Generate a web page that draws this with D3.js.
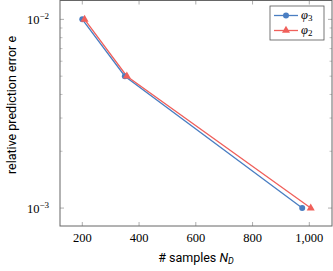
<!DOCTYPE html>
<html>
<head>
<meta charset="utf-8">
<script src="https://d3js.org/d3.v7.min.js"></script>
<style>
  body { margin: 0; background: #fff; }
</style>
</head>
<body>
<script>
// data
var phi3X = [200, 350, 975],
    phi3Y = [0.01, 0.005, 0.001];
var phi2X = [208, 357, 1005],
    phi2Y = [0.01, 0.005, 0.001];
var xTicks = [200, 400, 600, 800, 1000];
var yTicks = [0.001, 0.01];
var seriesNames = ["3", "2"];

var W = 333, H = 271;
var pLeft = 60, pRight = 332, pTop = 0.5, pBottom = 226;

var svg = d3.select("body").append("svg")
    .attr("width", W).attr("height", H);

var x = d3.scaleLinear().domain([121.4, 1080]).range([pLeft, pRight]);
var y = d3.scaleLog().domain([Math.pow(10, -3.095), Math.pow(10, -1.9)]).range([pBottom, pTop]);

var minorY = [];
for (var k = 2; k <= 9; k++) minorY.push(k * 0.001);

var tickCol = "#999";
var serif = "'Liberation Serif', 'DejaVu Serif', serif";

// y ticks (left + right, inside)
[pLeft, pRight].forEach(function(px, i) {
  var dir = i === 0 ? 1 : -1;
  svg.selectAll(null).data(yTicks).enter().append("line")
    .attr("x1", px).attr("x2", px + dir * 4)
    .attr("y1", function(d) { return y(d); }).attr("y2", function(d) { return y(d); })
    .attr("stroke", tickCol).attr("stroke-width", 0.8);
  svg.selectAll(null).data(minorY).enter().append("line")
    .attr("x1", px).attr("x2", px + dir * 2.5)
    .attr("y1", function(d) { return y(d); }).attr("y2", function(d) { return y(d); })
    .attr("stroke", tickCol).attr("stroke-width", 0.6);
});
// x ticks (bottom + top)
[pBottom, pTop].forEach(function(py, i) {
  var dir = i === 0 ? -1 : 1;
  svg.selectAll(null).data(xTicks).enter().append("line")
    .attr("x1", function(d) { return x(d); }).attr("x2", function(d) { return x(d); })
    .attr("y1", py).attr("y2", py + dir * 4)
    .attr("stroke", tickCol).attr("stroke-width", 0.8);
});

// frame
svg.append("rect")
  .attr("x", pLeft).attr("y", pTop)
  .attr("width", pRight - pLeft).attr("height", pBottom - pTop)
  .attr("fill", "none").attr("stroke", "#666").attr("stroke-width", 1);

// tick labels
var fmt = d3.format(",");
svg.selectAll(null).data(xTicks).enter().append("text")
  .attr("x", function(d) { return x(d); }).attr("y", 242)
  .attr("text-anchor", "middle")
  .style("font-family", serif).style("font-size", "12.5px")
  .text(function(d) { return fmt(d); });

var yl = svg.selectAll(null).data(yTicks).enter().append("text")
  .attr("x", 27).attr("y", function(d) { return y(d) + 4.5; })
  .style("font-family", serif).style("font-size", "12.5px");
yl.append("tspan").text("10");
yl.append("tspan").attr("dy", -5).style("font-size", "9px")
  .text(function(d) { return "\u2212" + Math.round(-Math.log10(d)); });

// axis titles
svg.append("text")
  .attr("transform", "translate(16,105) rotate(-90)")
  .attr("text-anchor", "middle")
  .style("font-family", "Roboto, sans-serif").style("font-size", "12.5px")
  .text("relative prediction error e");

var xt = svg.append("text")
  .attr("x", 196).attr("y", 262)
  .attr("text-anchor", "middle")
  .style("font-family", "Roboto, sans-serif").style("font-size", "12.5px");
xt.append("tspan").text("# samples ");
xt.append("tspan").style("font-style", "italic").text("N");
xt.append("tspan").style("font-style", "italic").style("font-size", "9px").attr("dy", 2).text("D");

// series
var blue = "#4a7ec2", red = "#f0605b";
var line = d3.line().x(function(d) { return x(d[0]); }).y(function(d) { return y(d[1]); });
var s3 = d3.zip(phi3X, phi3Y), s2 = d3.zip(phi2X, phi2Y);

svg.append("path").datum(s3).attr("d", line)
  .attr("fill", "none").attr("stroke", blue).attr("stroke-width", 1.3);
svg.append("path").datum(s2).attr("d", line)
  .attr("fill", "none").attr("stroke", red).attr("stroke-width", 1.3);

var tri = d3.symbol().type(d3.symbolTriangle).size(28);
svg.selectAll(null).data(s3).enter().append("circle")
  .attr("cx", function(d) { return x(d[0]); }).attr("cy", function(d) { return y(d[1]); })
  .attr("r", 3).attr("fill", blue);
svg.selectAll(null).data(s2).enter().append("path")
  .attr("d", tri)
  .attr("transform", function(d) { return "translate(" + x(d[0]) + "," + y(d[1]) + ")"; })
  .attr("fill", red);

// legend
var lg = svg.append("g");
lg.append("rect").attr("x", 270).attr("y", 6).attr("width", 54).attr("height", 34)
  .attr("fill", "#fff").attr("stroke", "#555").attr("stroke-width", 0.8);
[[blue, 15.5], [red, 30.5]].forEach(function(p, i) {
  lg.append("line").attr("x1", 274).attr("x2", 298).attr("y1", p[1]).attr("y2", p[1])
    .attr("stroke", p[0]).attr("stroke-width", 1.3);
  if (i === 0) {
    lg.append("circle").attr("cx", 286).attr("cy", p[1]).attr("r", 3).attr("fill", p[0]);
  } else {
    lg.append("path").attr("d", tri).attr("transform", "translate(286," + p[1] + ")").attr("fill", p[0]);
  }
  var t = lg.append("text").attr("x", 301).attr("y", p[1] + 3.5)
    .style("font-family", serif).style("font-size", "12.5px");
  t.append("tspan").style("font-style", "italic").text("\u03c6");
  t.append("tspan").attr("dy", 2).style("font-size", "9px").text(seriesNames[i]);
});
</script>
</body>
</html>
